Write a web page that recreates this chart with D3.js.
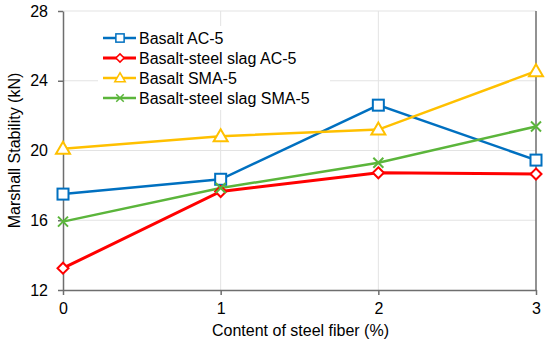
<!DOCTYPE html>
<html>
<head>
<meta charset="utf-8">
<script src="https://cdn.jsdelivr.net/npm/d3@7"></script>
<style>
  body { margin: 0; background: #fff; }
  text { font-family: "Liberation Sans", Arial, sans-serif; fill: #000; }
</style>
</head>
<body>
<svg id="chart" width="550" height="346"></svg>
<script>
// data
var fiberContent = [0, 1, 2, 3];
var basaltAC5 = [17.5, 18.35, 22.6, 19.45];
var slagAC5 = [13.25, 17.65, 18.72, 18.65];
var basaltSMA5 = [20.1, 20.82, 21.2, 24.55];
var slagSMA5 = [15.92, 17.85, 19.3, 21.38];
var yTicks = [12, 16, 20, 24, 28];
var seriesNames = ["Basalt AC-5", "Basalt-steel slag AC-5", "Basalt SMA-5", "Basalt-steel slag SMA-5"];

var series = [
    {name: seriesNames[0], values: basaltAC5, color: "#0070C0", marker: "square"},
    {name: seriesNames[1], values: slagAC5, color: "#FF0000", marker: "diamond"},
    {name: seriesNames[2], values: basaltSMA5, color: "#FFC000", marker: "triangle"},
    {name: seriesNames[3], values: slagSMA5, color: "#5BB53B", marker: "cross"}
];

var LEFT = 63, RIGHT = 536, TOP = 11, BOTTOM = 290;
var FONT = 16;

var svg = d3.select("#chart");

var x = d3.scaleLinear().domain([0, 3]).range([LEFT, RIGHT]);
var y = d3.scaleLinear().domain([12, 28]).range([BOTTOM, TOP]);

// gridlines
svg.append("g")
    .selectAll("line")
    .data(yTicks.slice(1))
    .join("line")
    .attr("x1", LEFT).attr("x2", RIGHT)
    .attr("y1", d => y(d)).attr("y2", d => y(d))
    .attr("stroke", "#e3e3e3").attr("stroke-width", 1);

svg.append("g")
    .selectAll("line")
    .data(fiberContent.slice(1, 3))
    .join("line")
    .attr("x1", d => x(d)).attr("x2", d => x(d))
    .attr("y1", TOP).attr("y2", BOTTOM)
    .attr("stroke", "#e3e3e3").attr("stroke-width", 1);

// right border
svg.append("line")
    .attr("x1", RIGHT).attr("x2", RIGHT)
    .attr("y1", TOP).attr("y2", BOTTOM)
    .attr("stroke", "#6e6e6e").attr("stroke-width", 1.5);

// axes
var xAxis = d3.axisBottom(x).tickValues(fiberContent).tickFormat(d3.format("d")).tickSize(5).tickSizeOuter(0);
var gx = svg.append("g")
    .attr("transform", `translate(0,${BOTTOM})`)
    .call(xAxis);
gx.select(".domain").attr("stroke", "#6e6e6e").attr("stroke-width", 1.5);
gx.selectAll(".tick line").attr("stroke", "#6e6e6e").attr("stroke-width", 1.5);
gx.selectAll("text").attr("font-size", FONT).attr("y", 9).attr("dy", "0.95em").attr("fill", "#000");

var yAxis = d3.axisLeft(y).tickValues(yTicks).tickSize(5).tickSizeOuter(0);
var gy = svg.append("g")
    .attr("transform", `translate(${LEFT},0)`)
    .call(yAxis);
gy.select(".domain").attr("stroke", "#6e6e6e").attr("stroke-width", 1.5);
gy.selectAll(".tick line").attr("stroke", "#6e6e6e").attr("stroke-width", 1.5);
gy.selectAll("text").attr("font-size", FONT).attr("x", -15).attr("fill", "#000");

// axis titles
svg.append("text")
    .attr("x", (LEFT + RIGHT) / 2 + 1)
    .attr("y", 336)
    .attr("text-anchor", "middle")
    .attr("font-size", FONT)
    .text("Content of steel fiber (%)");

svg.append("text")
    .attr("transform", `translate(20,${(TOP + BOTTOM) / 2}) rotate(-90)`)
    .attr("text-anchor", "middle")
    .attr("font-size", FONT)
    .text("Marshall Stability (kN)");

// legend background
var legend = svg.append("g");
legend.append("rect")
    .attr("x", 98).attr("y", 26).attr("width", 232).attr("height", 84)
    .attr("fill", "#fff");

function drawMarker(g, type, color) {
    if (type == "square") {
        g.append("rect").attr("x", -5.5).attr("y", -5.5).attr("width", 11).attr("height", 11)
            .attr("fill", "#fff").attr("stroke", color).attr("stroke-width", 2);
    } else if (type == "diamond") {
        g.append("path").attr("d", "M0,-5.5L5.5,0L0,5.5L-5.5,0Z")
            .attr("fill", "#fff").attr("stroke", color).attr("stroke-width", 2);
    } else if (type == "triangle") {
        g.append("path").attr("d", "M0,-7L7,5L-7,5Z")
            .attr("fill", "#fff").attr("stroke", color).attr("stroke-width", 2);
    } else {
        g.append("path").attr("d", "M-5,-5L5,5M-5,5L5,-5")
            .attr("fill", "none").attr("stroke", color).attr("stroke-width", 2);
    }
}

var line = d3.line()
    .x((d, i) => x(fiberContent[i]))
    .y(d => y(d));

series.forEach(function(s) {
    svg.append("path")
        .datum(s.values)
        .attr("fill", "none")
        .attr("stroke", s.color)
        .attr("stroke-width", s.marker == "diamond" ? 3 : 2.5)
        .attr("d", line);
});

series.forEach(function(s) {
    s.values.forEach(function(v, i) {
        var g = svg.append("g").attr("transform", `translate(${x(fiberContent[i])},${y(v)})`);
        drawMarker(g, s.marker, s.color);
    });
});

// legend entries
series.forEach(function(s, i) {
    var ly = 38 + i * 20;
    var row = legend.append("g").attr("transform", `translate(0,${ly})`);
    row.append("line")
        .attr("x1", 103).attr("x2", 136)
        .attr("stroke", s.color)
        .attr("stroke-width", s.marker == "diamond" ? 3 : 2.5);
    var m = row.append("g");
    drawMarker(m, s.marker, s.color);
    m.attr("transform", "translate(120,0) scale(0.75)");
    row.append("text")
        .attr("x", 139)
        .attr("y", 0)
        .attr("dy", "0.35em")
        .attr("font-size", FONT)
        .text(s.name);
});
</script>
</body>
</html>
